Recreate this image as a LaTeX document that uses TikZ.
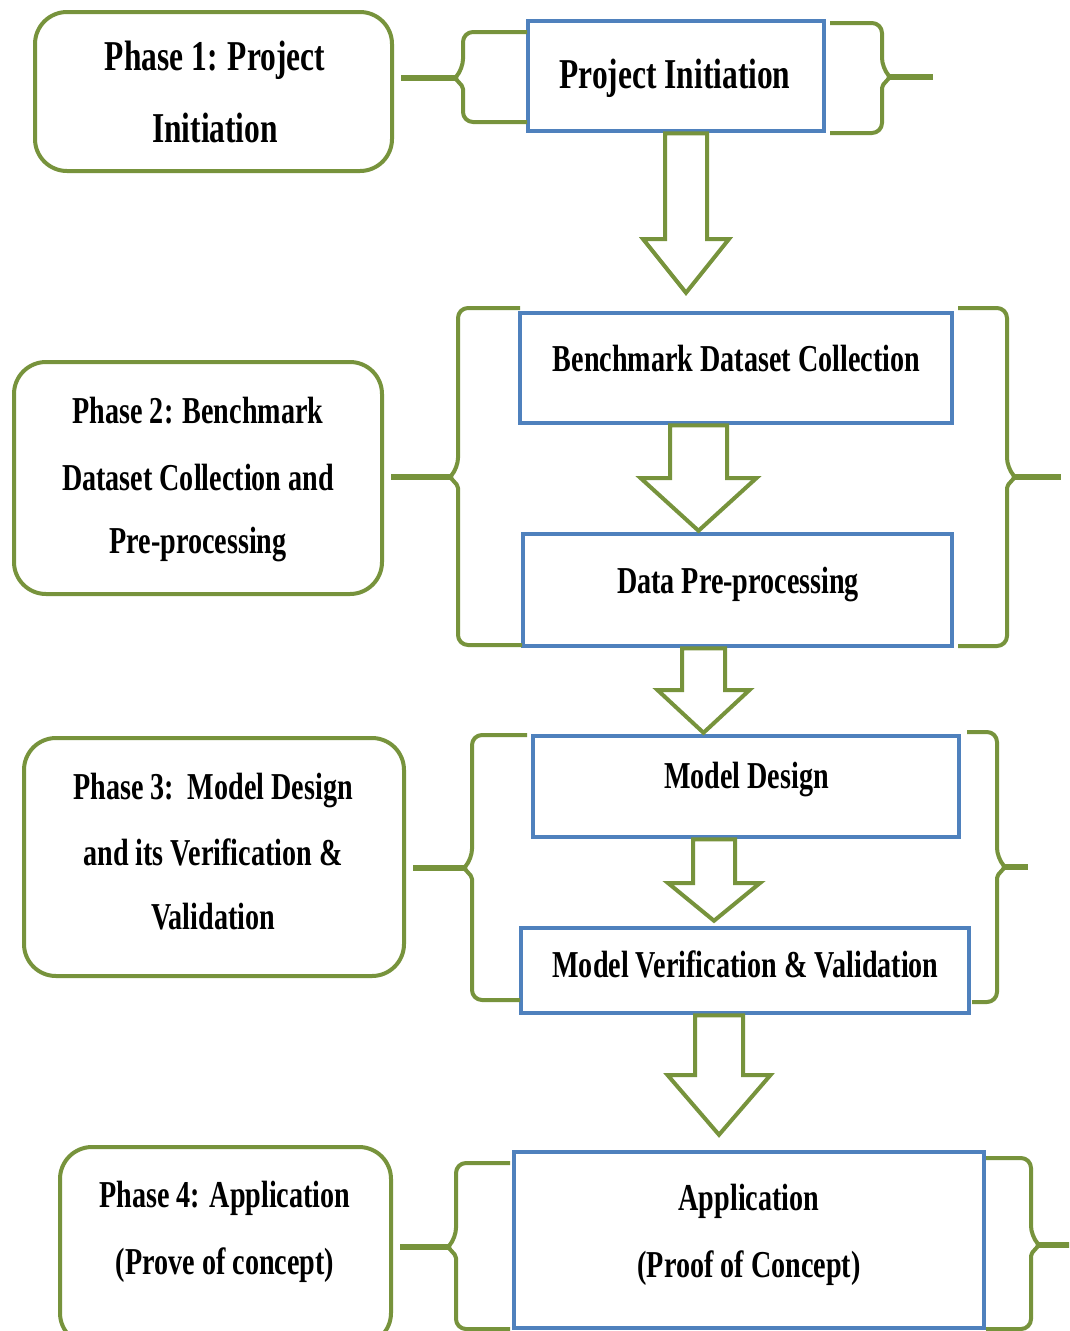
\documentclass[tikz,border=0pt]{standalone}
\usepackage{fontspec}
\newfontfamily\dfont{Liberation Serif}[FakeStretch=0.74]
\usetikzlibrary{calc}
\definecolor{brgreen}{HTML}{77933C}
\definecolor{stblue}{HTML}{4F81BD}

\tikzset{
  phasebox/.style={draw=brgreen, line width=4pt, rounded corners=32pt, fill=white},
  stagebox/.style={draw=stblue, line width=4.5pt, fill=white},
  bracestyle/.style={draw=brgreen, line width=4pt, line join=round},
  tipline/.style={draw=brgreen, line width=6pt},
  arrowshape/.style={draw=brgreen, line width=4pt, fill=white, line join=miter},
  lbl/.style={font=\dfont\bfseries\fontsize{38}{40}\selectfont, anchor=base, inner sep=0pt},
  biglbl/.style={lbl, font=\dfont\bfseries\fontsize{42.5}{45}\selectfont}
}

% hollow block arrow: source, target, x centre, shaft half width,
% head half width, y of head base, gap between tip and target
\newcommand\hollowarrow[7]{%
  \draw[arrowshape] (#1.south -| #3-#4,0) -- (#3-#4,#6) -- (#3-#5,#6)
    -- ($(#2.north -| #3,0)+(0,-#7)$) -- (#3+#5,#6) -- (#3+#4,#6)
    -- (#1.south -| #3+#4,0) -- cycle;}

% curly braces: x of the spine, y top, y bottom, y tip, x top arm end, x bottom arm end
\newcommand\leftbrace[6]{%
  \draw[bracestyle] (#5,#2) [rounded corners=10pt] -- (#1,#2) -- (#1,#4-9)
    [rounded corners=2pt] -- (#1-8,#4) -- (#1,#4+9)
    [rounded corners=10pt] -- (#1,#3) -- (#6,#3);}
\newcommand\rightbrace[6]{%
  \draw[bracestyle] (#5,#2) [rounded corners=10pt] -- (#1,#2) -- (#1,#4-9)
    [rounded corners=2pt] -- (#1+8,#4) -- (#1,#4+9)
    [rounded corners=10pt] -- (#1,#3) -- (#6,#3);}

\begin{document}
\begin{tikzpicture}[x=1pt, y=-1pt]
\useasboundingbox (0,0) rectangle (1069,1331);
\clip (0,0) rectangle (1069,1331);
\fill[white] (0,0) rectangle (1069,1331);

% phase boxes
\node[phasebox, minimum width=357pt, minimum height=159pt] (ph1) at (213.5,91.5) {};
\node[phasebox, minimum width=368pt, minimum height=232pt] (ph2) at (198,478) {};
\node[phasebox, minimum width=380pt, minimum height=238pt] (ph3) at (214,857) {};
\node[phasebox, minimum width=331pt, minimum height=198pt] (ph4) at (225.5,1246) {};

% stage boxes
\node[stagebox, minimum width=296pt, minimum height=110pt] (pi)  at (676,76) {};
\node[stagebox, minimum width=432pt, minimum height=110pt] (bdc) at (736,368) {};
\node[stagebox, minimum width=429pt, minimum height=112pt] (dpp) at (737.5,590) {};
\node[stagebox, minimum width=426pt, minimum height=101pt] (md)  at (746,786.5) {};
\node[stagebox, minimum width=448pt, minimum height=85pt]  (mvv) at (745,970.5) {};
\node[stagebox, minimum width=470pt, minimum height=176pt] (app) at (749,1240) {};

% braces around each phase
\leftbrace{463}{32}{122}{78}{527}{527}
\rightbrace{882}{23}{133}{77}{830}{830}
\leftbrace{458}{308}{645}{477}{520}{522}
\rightbrace{1007}{308}{646}{477}{958}{958}
\leftbrace{472}{735}{1000}{868}{527}{520}
\rightbrace{997}{732}{1002}{867}{967}{972}
\leftbrace{456}{1163}{1329}{1247}{510}{510}
\rightbrace{1031}{1158}{1329}{1245}{986}{986}

% brace tips
\coordinate (lt1) at (456,78);
\coordinate (lt2) at (451,477);
\coordinate (lt3) at (465,868);
\coordinate (lt4) at (449,1247);
\coordinate (rt1) at (933,77);
\coordinate (rt2) at (1061,477);
\coordinate (rt3) at (1028,867);
\coordinate (rt4) at (1075,1245);
\draw[tipline] ($(ph1.east |- lt1)+(7,0)$) -- (lt1);
\draw[tipline] ($(ph2.east |- lt2)+(7,0)$) -- (lt2);
\draw[tipline] ($(ph3.east |- lt3)+(7,0)$) -- (lt3);
\draw[tipline] ($(ph4.east |- lt4)+(7,0)$) -- (lt4);
\draw[tipline] (889,77) -- (rt1);
\draw[tipline] (1014,477) -- (rt2);
\draw[tipline] (1004,867) -- (rt3);
\draw[tipline] (1038,1245) -- (rt4);

% flow arrows
\hollowarrow{pi}{bdc}{686}{21}{43}{239}{18}
\hollowarrow{bdc}{dpp}{698.5}{28.5}{58}{478}{1}
\hollowarrow{dpp}{md}{703.5}{21.5}{46}{690}{1}
\hollowarrow{md}{mvv}{714}{21}{46}{883}{5}
\hollowarrow{mvv}{app}{719}{24}{51.5}{1075}{15}

% phase texts
\node[biglbl] (ph1a) at (215,70) {Phase 1: Project};
\node[biglbl] (ph1b) at (215,142) {Initiation};
\node[lbl] (ph2a) at (198,423) {Phase 2: Benchmark};
\node[lbl] (ph2b) at (198,490) {Dataset Collection and};
\node[lbl] (ph2c) at (198,553) {Pre-processing};
\node[lbl] (ph3a) at (213,799) {Phase 3:~~Model Design};
\node[lbl] (ph3b) at (213,865) {and its Verification \&};
\node[lbl] (ph3c) at (213,929) {Validation};
\node[lbl] (ph4a) at (225,1207) {Phase 4: Application};
\node[lbl] (ph4b) at (225,1274) {(Prove of concept)};

% stage texts
\node[biglbl] (pit) at (675,88) {Project Initiation};
\node[lbl] (bdct) at (736.5,371) {Benchmark Dataset Collection};
\node[lbl] (dppt) at (738,593) {Data Pre-processing};
\node[lbl] (mdt) at (746.5,788) {Model Design};
\node[lbl] (mvvt) at (745.5,977) {Model Verification \& Validation};
\node[lbl] (appa) at (749,1210) {Application};
\node[lbl] (appb) at (749,1277) {(Proof of Concept)};
\end{tikzpicture}
\end{document}
